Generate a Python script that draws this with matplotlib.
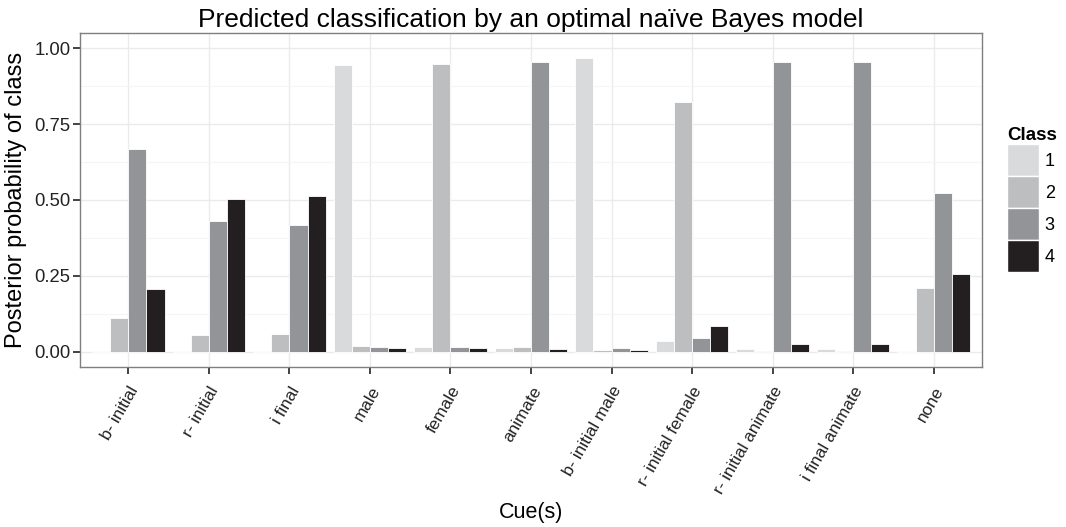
import matplotlib
matplotlib.use("Agg")
import matplotlib.pyplot as plt
from matplotlib.patches import Patch
import numpy as np

plt.rcParams['font.family'] = ['Liberation Sans', 'DejaVu Sans']

cues = ["b- initial", "r- initial", "i final", "male", "female", "animate",
        "b- initial male", "r- initial female", "r- initial animate",
        "i final animate", "none"]
classes = ["1", "2", "3", "4"]
class1 = [0.002, 0.002, 0.002, 0.944, 0.015, 0.011, 0.967, 0.037, 0.009, 0.008, 0.002]
class2 = [0.111, 0.056, 0.059, 0.020, 0.948, 0.015, 0.006, 0.822, 0.003, 0.002, 0.211]
class3 = [0.667, 0.432, 0.419, 0.015, 0.015, 0.955, 0.012, 0.045, 0.953, 0.953, 0.524]
class4 = [0.208, 0.502, 0.513, 0.012, 0.011, 0.009, 0.006, 0.086, 0.025, 0.026, 0.256]
colors = ["#d9dadc", "#bdbec0", "#939497", "#231f20"]

fig = plt.figure(figsize=(10.66, 5.27), dpi=100)
ax = fig.add_axes([80/1066, 1-367/527, (982-80)/1066, (367-33)/527])

x = np.arange(1, len(cues)+1)
w = 0.9/4
for i, vals in enumerate([class1, class2, class3, class4]):
    ax.bar(x + (i-1.5)*w, vals, width=w, color=colors[i], edgecolor='white',
           linewidth=0.6, zorder=3)

ax.set_xlim(0.4, 11.6)
ax.set_ylim(-0.05, 1.05)
ax.set_yticks([0, 0.25, 0.5, 0.75, 1.0])
ax.set_yticklabels(["0.00", "0.25", "0.50", "0.75", "1.00"])
ax.set_yticks([0.125, 0.375, 0.625, 0.875], minor=True)
ax.set_xticks(x)
ax.set_xticklabels(cues, rotation=60, ha='right', va='top', rotation_mode='anchor')
ax.grid(True, which='major', color='#ebebeb', linewidth=1.0, zorder=0)
ax.grid(True, which='minor', axis='y', color='#f5f5f5', linewidth=0.8, zorder=0)
ax.set_axisbelow(True)
for s in ax.spines.values():
    s.set_color('#7f7f7f')
    s.set_linewidth(1.0)
ax.tick_params(axis='both', which='major', length=5, width=1.2, color='#222222',
               labelcolor='#222222')
ax.tick_params(axis='x', which='major', labelsize=12.3, pad=7)
ax.tick_params(axis='y', which='major', labelsize=13.3, pad=2)
ax.tick_params(axis='y', which='minor', length=0)

ax.set_title("Predicted classification by an optimal naïve Bayes model",
             fontsize=19, pad=4)
ax.set_xlabel("Cue(s)", fontsize=15.5, labelpad=4)
ax.set_ylabel("Posterior probability of class", fontsize=17, labelpad=5)

handles = [Patch(facecolor=c, edgecolor='white', linewidth=1.0) for c in colors]
leg = ax.legend(handles, classes, title="Class", loc='upper left',
                bbox_to_anchor=(1.02, 0.74), frameon=False, fontsize=13,
                title_fontproperties={'weight': 'bold', 'size': 13.5},
                handlelength=1.77, handleheight=2.35, labelspacing=0.0,
                handletextpad=0.3, borderaxespad=0)
leg._legend_box.align = 'left'

fig.savefig("out.png", dpi=100)
